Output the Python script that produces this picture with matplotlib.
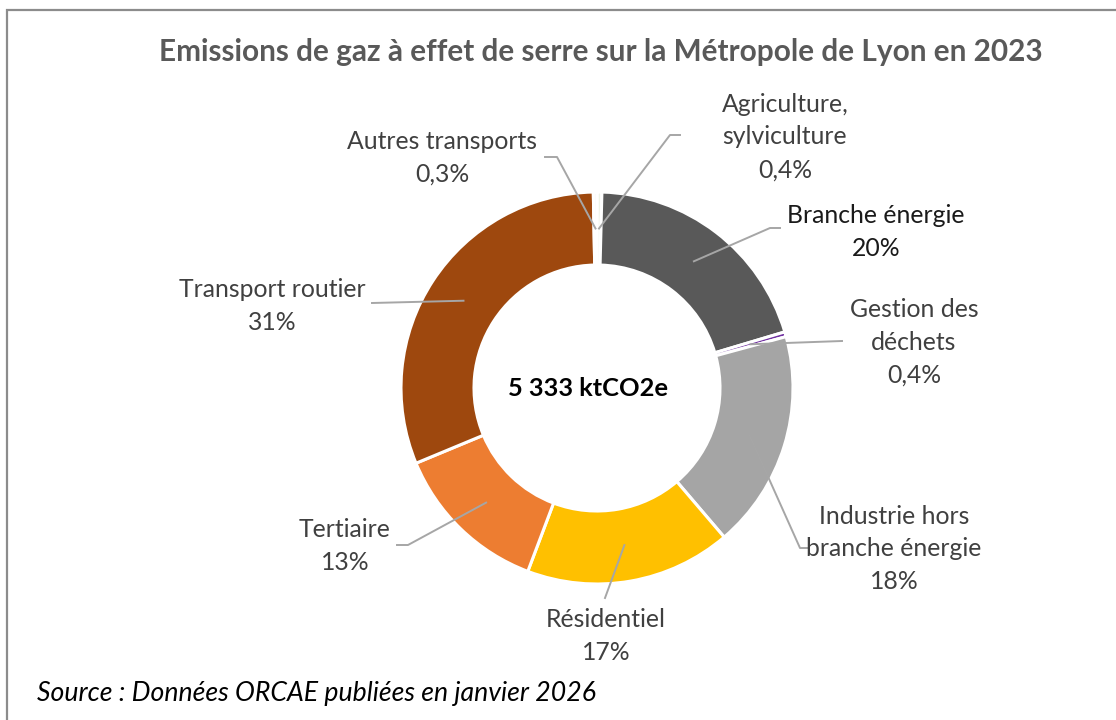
import numpy as np
import matplotlib.pyplot as plt

# data
secteurs = ["Agriculture,\nsylviculture", "Branche énergie", "Gestion des\ndéchets",
            "Industrie hors\nbranche énergie", "Résidentiel", "Tertiaire",
            "Transport routier", "Autres transports"]
parts = [0.4, 20, 0.4, 18, 17, 13, 31, 0.3]
parts_txt = ["0,4%", "20%", "0,4%", "18%", "17%", "13%", "31%", "0,3%"]
couleurs = ["#EEF3E8", "#595959", "#7030A0", "#A5A5A5", "#FFC000", "#ED7D31",
            "#9E480E", "#F7F7F7"]
total_txt = "5 333 ktCO2e"

W, H = 1116, 720
font = "Lato"

fig = plt.figure(figsize=(W / 100, H / 100), dpi=100)
ax = fig.add_axes([0, 0, 1, 1])

cx, cy = 597, H - 388
R, ring = 196, 73
wedges, _ = ax.pie(parts, colors=couleurs, startangle=90, counterclock=False,
                   radius=R, center=(cx, cy),
                   wedgeprops=dict(width=ring, edgecolor="white", linewidth=2.2))
ax.set_xlim(0, W)
ax.set_ylim(0, H)
ax.set_aspect("equal")
ax.axis("off")

# cadre (coupé à droite et en bas)
ax.plot([7, 7, W + 5], [-5, H - 10, H - 10], color="#8C8C8C", lw=1.6,
        clip_on=False, solid_joinstyle="miter")

ax.text(601, H - 52, "Emissions de gaz à effet de serre sur la Métropole de Lyon en 2023",
        ha="center", va="center", fontsize=21.4, fontweight="bold", color="#595959",
        family=font)
ax.text(cx - 9, cy, total_txt, ha="center", va="center", fontsize=18.3, fontweight="bold",
        color="black", family=font)
ax.text(37, H - 693, "Source : Données ORCAE publiées en janvier 2026", ha="left",
        va="center", fontsize=19.2, style="italic", color="black", family=font)

# positions des étiquettes (px, y depuis le haut) et coudes des lignes de rappel
lab_pos = [(785, 137), (876, 232), (914, 342), (894, 549), (606, 636),
           (345, 546), (272, 306), (442, 158)]
coudes = [[(670, 135), (680, 135)], [(770, 228), (780, 228)], [(842, 341)],
          [(800, 548), (808, 548)], [(605, 598)], [(408, 545), (397, 545)],
          [(372, 303)], [(557, 157), (545, 157)]]

for i, w in enumerate(wedges):
    mid = np.deg2rad((w.theta1 + w.theta2) / 2)
    r = R - ring / 2
    x0, y0 = cx + r * np.cos(mid), cy + r * np.sin(mid)
    xs = [x0] + [p[0] for p in coudes[i]]
    ys = [y0] + [H - p[1] for p in coudes[i]]
    ax.plot(xs, ys, color="#A6A6A6", lw=1.4)
    col = "#1A1A1A" if i == 1 else "#404040"
    lx, ly = lab_pos[i]
    ax.text(lx, H - ly, secteurs[i] + "\n" + parts_txt[i], ha="center", va="center",
            fontsize=17.8, color=col, family=font, linespacing=1.52)

fig.savefig("out.png", dpi=100, facecolor="white")
